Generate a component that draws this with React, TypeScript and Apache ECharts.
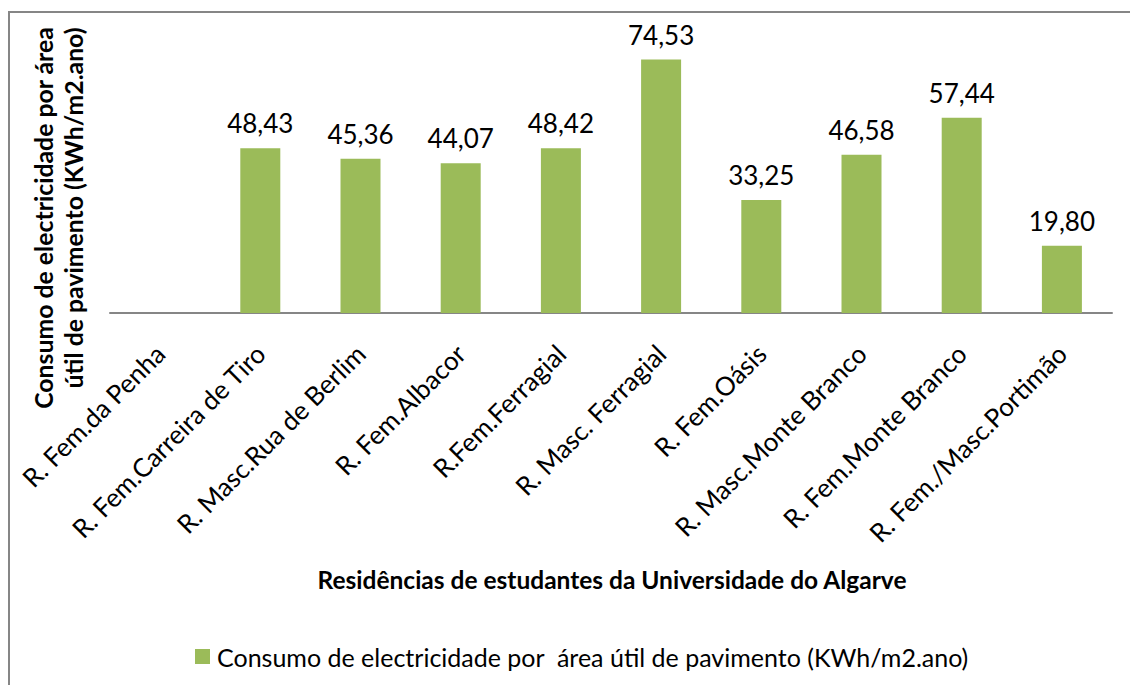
import React, { useEffect, useRef } from "react";
import * as echarts from "echarts";

const categories = [
  "R. Fem.da Penha",
  "R. Fem.Carreira de Tiro",
  "R. Masc.Rua de Berlim",
  "R. Fem.Albacor",
  "R.Fem.Ferragial",
  "R. Masc. Ferragial",
  "R. Fem.Oásis",
  "R. Masc.Monte Branco",
  "R. Fem.Monte Branco",
  "R. Fem./Masc.Portimão",
];
const values: (number | null)[] = [null, 48.43, 45.36, 44.07, 48.42, 74.53, 33.25, 46.58, 57.44, 19.8];
const seriesName = "Consumo de electricidade por  área útil de pavimento (KWh/m2.ano)";
const yTitle = ["Consumo de electricidade por área", "útil de pavimento (KWh/m2.ano)"];
const xTitle = "Residências de estudantes da Universidade do Algarve";

const FONT = "Lato, 'Open Sans', sans-serif";

export default function App() {
  const ref = useRef<HTMLDivElement>(null);
  useEffect(() => {
    if (!ref.current) return;
    const chart = echarts.init(ref.current, null, { renderer: "svg" });
    chart.setOption({
      animation: false,
      backgroundColor: "#ffffff",
      textStyle: { fontFamily: FONT },
      grid: { left: 110, right: 18, top: 41, bottom: 372, containLabel: false },
      legend: {
        show: true,
        left: 190,
        top: 639,
        itemWidth: 15,
        itemHeight: 15,
        itemGap: 10,
        icon: "rect",
        textStyle: { fontFamily: FONT, fontSize: 25, color: "#000", padding: [0, 0, 0, 2] },
        data: [seriesName],
      },
      xAxis: {
        type: "category",
        data: categories,
        axisLine: { lineStyle: { color: "#868686", width: 2 } },
        axisTick: { show: false },
        axisLabel: {
          rotate: 45,
          interval: 0,
          margin: 36,
          fontFamily: FONT,
          fontSize: 26,
          color: "#000",
        },
      },
      yAxis: {
        type: "value",
        min: 0,
        max: 80,
        show: false,
        splitLine: { show: false },
      },
      series: [
        {
          name: seriesName,
          type: "bar",
          data: values,
          barWidth: 40,
          itemStyle: { color: "#9BBB59" },
          label: {
            show: true,
            position: "top",
            distance: 12,
            fontFamily: FONT,
            fontSize: 26,
            color: "#000",
            formatter: (p: any) => (p.value == null ? "" : Number(p.value).toFixed(2).replace(".", ",")),
          },
        },
      ],
      graphic: [
        {
          type: "rect",
          shape: { x: 9, y: 12, width: 1200, height: 800 },
          style: { fill: "none", stroke: "#868686", lineWidth: 2 },
          silent: true,
        },
        {
          type: "text",
          x: 43,
          y: 218,
          rotation: Math.PI / 2,
          style: {
            text: yTitle[0],
            fontFamily: FONT,
            fontSize: 24.8,
            fontWeight: "bold",
            fill: "#000",
            align: "center",
            verticalAlign: "middle",
          },
        },
        {
          type: "text",
          x: 73,
          y: 208,
          rotation: Math.PI / 2,
          style: {
            text: yTitle[1],
            fontFamily: FONT,
            fontSize: 24.8,
            fontWeight: "bold",
            fill: "#000",
            align: "center",
            verticalAlign: "middle",
          },
        },
        {
          type: "text",
          x: 612,
          y: 579,
          style: {
            text: xTitle,
            fontFamily: FONT,
            fontSize: 24.5,
            fontWeight: "bold",
            fill: "#000",
            align: "center",
            verticalAlign: "middle",
          },
        },
      ],
    });
    return () => chart.dispose();
  }, []);
  return (
    <div
      ref={ref}
      style={{ position: "fixed", left: 0, top: 0, width: 1130, height: 685 }}
    />
  );
}
